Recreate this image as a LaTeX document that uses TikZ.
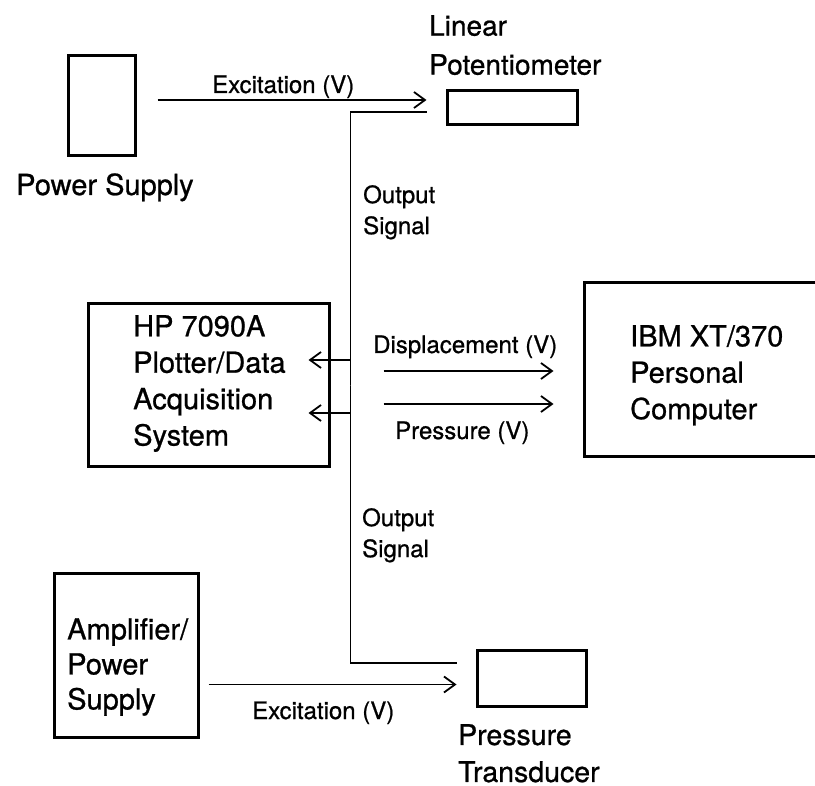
\documentclass[tikz,border=0pt]{standalone}
\usepackage{fontspec}
\setmainfont{TeX Gyre Heros}[FakeBold=0.8]
\usetikzlibrary{arrows.meta}

\begin{document}
\begin{tikzpicture}[x=1pt, y=-1pt, >={Straight Barb[length=11pt,width=16pt,line width=1.8pt]}]
    \tikzset{
        unit/.style={draw, line width=3pt, inner sep=0pt},
        big/.style={inner sep=0pt, align=left, font=\fontsize{29}{36.4}\selectfont},
        tag/.style={inner sep=0pt, align=left, font=\fontsize{24}{31}\selectfont},
        sig/.style={->, line width=1.3pt},
    }
    \useasboundingbox (0,0) rectangle (815,786);

    \node[unit, minimum width=67pt, minimum height=100pt] (ps) at (101.5,106) {};
    \node[unit, minimum width=130pt, minimum height=34pt] (pot) at (512,108) {};
    \node[unit, minimum width=241pt, minimum height=163pt] (hp) at (208.5,385.5) {};
    \node[unit, minimum width=246pt, minimum height=174pt] (ibm) at (707,370) {};
    \node[unit, minimum width=144pt, minimum height=163pt] (amp) at (126,655.5) {};
    \node[unit, minimum width=109pt, minimum height=56pt] (pt) at (531.5,678) {};

    \node[big, anchor=base west] (pslbl) at (16,195) {Power Supply};
    \node[big, anchor=north west, font=\fontsize{28}{39}\selectfont] (potlbl) at (429,15) {Linear\\Potentiometer};
    \node[big, anchor=north west] (hplbl) at (133,315) {HP 7090A\\Plotter/Data\\Acquisition\\System};
    \node[big, anchor=north west] (ibmlbl) at (630,325) {IBM XT/370\\Personal\\Computer};
    \node[big, anchor=north west, font=\fontsize{29}{35}\selectfont] (amplbl) at (67,618) {Amplifier/\\Power\\Supply};
    \node[big, anchor=north west, font=\fontsize{28.5}{37}\selectfont] (ptlbl) at (458,724) {Pressure\\Transducer};

    \node[tag, anchor=base west] (exc1) at (212,93) {Excitation (V)};
    \node[tag, anchor=north west] (out1) at (363,185) {Output\\Signal};
    \node[tag, anchor=base west] (dsp) at (373,353) {Displacement (V)};
    \node[tag, anchor=base west] (prs) at (395,439) {Pressure (V)};
    \node[tag, anchor=north west] (out2) at (362,508) {Output\\Signal};
    \node[tag, anchor=base west] (exc2) at (252,719) {Excitation (V)};

    \coordinate (bus) at (350.5,0);

    \draw[sig, shorten <=21pt, shorten >=19pt] ([yshift=6pt]ps.east) -- ([yshift=6pt]ps.east -| pot.west);
    \draw[sig] ([xshift=-19pt,yshift=-4pt]pot.west) -| (bus |- hp.center) |- ([xshift=-22pt,yshift=25.5pt]hp.east);
    \draw[sig] ([xshift=-19pt,yshift=15pt]pt.west) -| (bus |- hp.center) |- ([xshift=-22pt,yshift=-27.5pt]hp.east);
    \draw[sig, shorten <=53pt, shorten >=29pt] ([yshift=14.5pt]hp.east) -- ([yshift=14.5pt]hp.east -| ibm.west);
    \draw[sig, shorten <=53pt, shorten >=29pt] ([yshift=-18.5pt]hp.east) -- ([yshift=-18.5pt]hp.east -| ibm.west);
    \draw[sig, shorten <=9pt, shorten >=19pt] ([yshift=-29pt]amp.east) -- ([yshift=-29pt]amp.east -| pt.west);
\end{tikzpicture}
\end{document}
